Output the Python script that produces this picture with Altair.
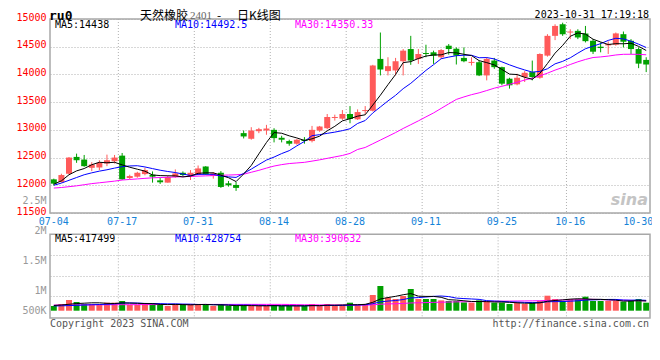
import altair as alt
import pandas as pd

# ---------------- data ----------------
dates = ["07-04", "07-05", "07-06", "07-07", "07-10", "07-11", "07-12", "07-13", "07-14",
         "07-17", "07-18", "07-19", "07-20", "07-21", "07-24", "07-25", "07-26", "07-27", "07-28",
         "07-31", "08-01", "08-02", "08-03", "08-04", "08-07", "08-08", "08-09", "08-10", "08-11",
         "08-14", "08-15", "08-16", "08-17", "08-18", "08-21", "08-22", "08-23", "08-24", "08-25",
         "08-28", "08-29", "08-30", "08-31", "09-01", "09-04", "09-05", "09-06", "09-07", "09-08",
         "09-11", "09-12", "09-13", "09-14", "09-15", "09-18", "09-19", "09-20", "09-21", "09-22",
         "09-25", "09-26", "09-27", "09-28", "10-09", "10-10", "10-11", "10-12", "10-13",
         "10-16", "10-17", "10-18", "10-19", "10-20", "10-23", "10-24", "10-25", "10-26", "10-27",
         "10-30"]
tick_dates = ["07-04", "07-17", "07-31", "08-14", "08-28", "09-11", "09-25", "10-16", "10-30"]
grid_dates = ["07-17", "07-31", "08-14", "08-28", "09-11", "09-25", "10-16"]

opens = [12107, 12060, 12208, 12512, 12464, 12315, 12321, 12393, 12434, 12535,
         12131, 12155, 12202, 12190, 12089, 12048, 12155, 12226, 12155, 12197,
         12339, 12167, 12226, 12036, 12006, 12941, 12839, 12976, 12988, 13000,
         12857, 12798, 12750, 12822, 12798, 12988, 13030, 13214, 13202, 13286,
         13190, 13339, 13345, 14280, 14060, 14071, 14238, 14458, 14280,
         14387, 14399, 14310, 14518, 14464, 14298, 14208, 14220, 13982, 14250,
         14131, 13923, 13821, 13952, 14042, 13940, 14339, 14696, 14905, 14756,
         14786, 14738, 14607, 14500, 14524, 14536, 14726, 14607, 14458, 14262]
highs = [12120, 12208, 12510, 12571, 12547, 12417, 12452, 12553, 12547, 12583,
         12190, 12244, 12315, 12250, 12131, 12179, 12286, 12250, 12274, 12357,
         12345, 12238, 12256, 12078, 12060, 12988, 13048, 13036, 13090, 13030,
         12893, 12822, 12833, 12869, 13071, 13071, 13286, 13274, 13357, 13429,
         13369, 13429, 14173, 14756, 14310, 14298, 14458, 14696, 14458,
         14536, 14429, 14458, 14548, 14488, 14488, 14310, 14250, 14310, 14298,
         14140, 13940, 14012, 14060, 14250, 14381, 14726, 14905, 14934, 14815,
         14815, 14875, 14637, 14577, 14595, 14756, 14774, 14637, 14488, 14310]
lows = [12000, 12048, 12200, 12405, 12333, 12256, 12274, 12345, 12393, 12100,
        12113, 12137, 12180, 12048, 12024, 12048, 12137, 12155, 12095, 12180,
        12190, 12120, 11953, 11976, 11899, 12845, 12822, 12940, 12911, 12774,
        12774, 12714, 12732, 12750, 12774, 12964, 13012, 13167, 13179, 13119,
        13179, 13286, 13333, 13982, 13982, 13982, 13982, 14173, 14190,
        14310, 14190, 14280, 14357, 14179, 14220, 14161, 13970, 13893, 14101,
        13804, 13744, 13804, 13863, 13893, 13923, 14321, 14619, 14696, 14637,
        14637, 14577, 14369, 14399, 14369, 14518, 14488, 14369, 14113, 14042]
closes = [12030, 12185, 12500, 12452, 12345, 12375, 12405, 12452, 12500, 12107,
          12167, 12226, 12274, 12155, 12054, 12149, 12214, 12185, 12226, 12304,
          12197, 12215, 11970, 12000, 11953, 12881, 12988, 13012, 13024, 12851,
          12822, 12750, 12822, 12798, 13000, 13060, 13232, 13232, 13286, 13197,
          13321, 13357, 14161, 14089, 14149, 14238, 14429, 14250, 14369,
          14369, 14339, 14440, 14458, 14339, 14238, 14226, 13982, 14280, 14131,
          13833, 13804, 13940, 14030, 13952, 14369, 14696, 14875, 14726, 14774,
          14667, 14600, 14410, 14476, 14548, 14740, 14590, 14458, 14195, 14179]
ma5 = [12020, 12080, 12190, 12260, 12302, 12371, 12415, 12406, 12415, 12368,
       12326, 12290, 12255, 12186, 12175, 12172, 12169, 12151, 12166, 12216,
       12225, 12225, 12182, 12137, 12067, 12204, 12358, 12567, 12772, 12951,
       12939, 12892, 12854, 12809, 12838, 12886, 12982, 13064, 13162, 13201,
       13247, 13272, 13447, 13625, 13815, 13999, 14213, 14231, 14287,
       14331, 14351, 14353, 14395, 14389, 14363, 14340, 14249, 14213, 14171,
       14090, 14006, 13998, 13948, 13912, 14019, 14197, 14384, 14524, 14688,
       14748, 14728, 14635, 14585, 14540, 14555, 14553, 14562, 14506, 14432]
ma10 = [12000, 12040, 12090, 12140, 12190, 12225, 12255, 12280, 12310, 12335,
        12349, 12353, 12331, 12301, 12272, 12249, 12230, 12203, 12176, 12196,
        12199, 12197, 12167, 12152, 12142, 12215, 12292, 12375, 12455, 12509,
        12572, 12625, 12711, 12791, 12895, 12913, 12937, 12959, 12986, 13020,
        13115, 13168, 13305, 13413, 13522, 13623, 13743, 13839, 13956,
        14073, 14175, 14283, 14313, 14338, 14347, 14346, 14301, 14304, 14280,
        14227, 14173, 14124, 14081, 14042, 14055, 14102, 14191, 14236, 14300,
        14384, 14463, 14510, 14555, 14614, 14652, 14641, 14599, 14546, 14486]
ma30 = [11950, 11960, 11975, 11990, 12010, 12030, 12045, 12060, 12075, 12095,
        12105, 12115, 12125, 12135, 12140, 12145, 12150, 12155, 12160, 12165,
        12170, 12175, 12180, 12185, 12190, 12200, 12235, 12270, 12310, 12347,
        12373, 12392, 12403, 12414, 12436, 12459, 12486, 12512, 12538, 12575,
        12646, 12682, 12749, 12816, 12883, 12951, 13025, 13093, 13162,
        13234, 13305, 13387, 13469, 13549, 13594, 13635, 13668, 13709, 13752,
        13786, 13821, 13858, 13899, 13931, 13975, 14023, 14078, 14126, 14179,
        14228, 14270, 14305, 14316, 14331, 14351, 14363, 14364, 14362, 14355]

# volumes in thousands of lots
vol_k = [197, 281, 449, 365, 281, 281, 281, 336, 336, 407,
         239, 239, 281, 323, 239, 197, 281, 239, 281, 281,
         239, 197, 239, 197, 197, 239, 197, 197, 197, 239,
         197, 197, 197, 197, 281, 197, 281, 197, 239, 336,
         239, 281, 659, 1037, 546, 491, 617, 911, 491,
         491, 491, 433, 407, 407, 349, 336, 433, 378, 336,
         336, 281, 336, 281, 336, 407, 630, 491, 407, 491,
         491, 588, 407, 407, 407, 407, 378, 433, 491, 336]
vma5_k = [220, 240, 270, 300, 315, 331, 331, 309, 303, 328,
          320, 311, 300, 298, 264, 256, 264, 256, 247, 256,
          264, 247, 247, 231, 214, 214, 214, 205, 205, 214,
          205, 205, 205, 205, 214, 214, 231, 231, 239, 250,
          250, 267, 351, 491, 552, 603, 670, 720, 611,
          600, 600, 563, 463, 446, 417, 386, 386, 381, 366,
          364, 353, 333, 314, 314, 328, 398, 429, 454, 485,
          502, 494, 477, 477, 460, 443, 401, 406, 423, 409]
vma10_k = [200, 205, 215, 225, 240, 250, 260, 270, 285, 322,
           326, 321, 305, 301, 296, 288, 288, 278, 273, 260,
           260, 256, 252, 239, 235, 239, 231, 226, 218, 214,
           210, 210, 205, 205, 214, 210, 218, 218, 222, 232,
           241, 249, 295, 371, 405, 427, 469, 536, 551,
           576, 602, 617, 592, 529, 509, 493, 475, 422, 406,
           391, 370, 360, 348, 340, 346, 376, 381, 384, 400,
           415, 446, 453, 466, 473, 473, 448, 442, 450, 435]
vma30_k = [238, 240, 241, 243, 244, 246, 247, 249, 250, 252,
           253, 254, 256, 257, 258, 259, 260, 261, 262, 262,
           263, 263, 264, 264, 265, 265, 265, 265, 265, 265,
           265, 262, 254, 248, 248, 245, 245, 241, 238, 235,
           235, 235, 246, 273, 285, 292, 304, 325, 332,
           341, 350, 357, 364, 371, 375, 379, 387, 393, 396,
           401, 404, 408, 411, 413, 420, 432, 442, 447, 452,
           461, 472, 477, 468, 447, 442, 439, 433, 419, 413]

price_ticks = [11500, 12000, 12500, 13000, 13500, 14000, 14500, 15000]
vol_label_text = ["500K", "1M", "1.5M", "2M", "2.5M"]
legend_price = ["MA5:14438", "MA10:14492.5", "MA30:14350.33"]
legend_vol = ["MA5:417499", "MA10:428754", "MA30:390632"]

for arr in (opens, highs, lows, closes, ma5, ma10, ma30, vol_k, vma5_k, vma10_k, vma30_k):
    assert len(arr) == len(dates), len(arr)

# ---------------- layout / style ----------------
W, H = 600, 299
PRICE_DOMAIN = [9605.7, 15000]            # price panel occupies top 194 px
VOL_DOMAIN = [-306600, 12251400]          # volume baseline ~7px above bottom
VOL_TOP = 3208800                         # top edge of the volume panel
vol_grid = [617400, 1470000, 2326800]
vol_label_pos = [0, 869400, 2100000, 3389400, 4649400]

RED, GREEN = "#FF5A5A", "#00A000"
BLACK, BLUE, MAG = "#000000", "#0000FF", "#FF00FF"
GRID, BORDER = "#B0B0B0", "#A8A8A8"
MONO = "DejaVu Sans Mono"
CJK = "Noto Sans CJK SC"

df = pd.DataFrame(dict(
    d=dates, o=opens, h=highs, l=lows, c=closes,
    ma5=ma5, ma10=ma10, ma30=ma30,
    v=[x * 1000 for x in vol_k], vma5=[x * 1000 for x in vma5_k],
    vma10=[x * 1000 for x in vma10_k], vma30=[x * 1000 for x in vma30_k],
))
one = pd.DataFrame({"k": [0]})
gdf = pd.DataFrame({"d": grid_dates})
tdf = pd.DataFrame({"d": tick_dates})

xs = alt.Scale(type="band", domain=dates, paddingInner=0, paddingOuter=0)


def ps():
    return alt.Scale(domain=PRICE_DOMAIN, nice=False, zero=False)


def vs():
    return alt.Scale(domain=VOL_DOMAIN, nice=False, zero=False)


col = alt.when(alt.datum.c >= alt.datum.o).then(alt.value(RED)).otherwise(alt.value(GREEN))


def xc(bp=0.5):
    # no axis here: the shared date axis is defined once, on its own layer
    return alt.X("d:O", scale=xs, bandPosition=bp)


base = alt.Chart(df)

# ---------------- axes (each on its own invisible layer) ----------------
price_axis = alt.Axis(orient="left", values=price_ticks, format="d", title=None, grid=True,
                      gridColor=GRID, gridDash=[1, 2], ticks=False, domain=False,
                      labelColor="#FF0000", labelFont=MONO, labelFontSize=10,
                      labelPadding=4, labelOffset=-2, labelOverlap=False)
date_axis = alt.Axis(orient="bottom", values=tick_dates, offset=-105, bandPosition=0,
                     title=None, grid=False, ticks=False, domain=False, labelAngle=0,
                     labelOffset={"condition": {"test": f"datum.value == '{tick_dates[-1]}'",
                                                "value": -8}, "value": 0},
                     labelColor="#1483D8", labelFont=MONO, labelFontSize=10,
                     labelPadding=3, labelOverlap=False)
vol_axis = alt.Axis(orient="left", values=vol_grid, title=None, grid=True,
                    gridColor=GRID, gridDash=[1, 2], ticks=False, domain=False, labels=False)
expr = "''"
for pos, lab in zip(vol_label_pos, vol_label_text):
    expr = f"abs(datum.value - {pos}) < 1000 ? '{lab}' : ({expr})"
vlab_axis = alt.Axis(orient="left", values=vol_label_pos, labelExpr=expr, title=None,
                     grid=False, ticks=False, domain=False, labelColor="#999999",
                     labelFont=MONO, labelFontSize=10, labelPadding=4, labelOverlap=False)

daxis = alt.Chart(tdf).mark_rule(opacity=0).encode(x=alt.X("d:O", scale=xs, axis=date_axis))
paxis = base.mark_rule(opacity=0).encode(y=alt.Y("c:Q", scale=ps(), axis=price_axis))
vgaxis = base.mark_rule(opacity=0).encode(y=alt.Y("v:Q", scale=vs(), axis=vol_axis))
vlaxis = base.mark_rule(opacity=0).encode(y=alt.Y("v:Q", scale=vs(), axis=vlab_axis))

# ---------------- price panel ----------------
xgrid_p = alt.Chart(gdf).mark_rule(color=GRID, strokeDash=[1, 2]).encode(
    x=xc(0), y=alt.YDatum(15000, scale=ps(), axis=None), y2=alt.Y2Datum(11500))
wicks = base.mark_rule(strokeWidth=1).encode(
    x=xc(), y=alt.Y("l:Q", scale=ps(), axis=None), y2="h:Q", color=col)
bodies = base.mark_bar(size=6).encode(
    x=alt.X("d:O", scale=xs),
    y=alt.Y("o:Q", scale=ps(), axis=None), y2="c:Q", color=col)
ma_lines = [base.mark_line(color=c, strokeWidth=1).encode(
    x=xc(), y=alt.Y(f + ":Q", scale=ps(), axis=None))
    for f, c in [("ma30", MAG), ("ma10", BLUE), ("ma5", BLACK)]]
border_p = alt.Chart(one).mark_rect(fillOpacity=0, stroke=BORDER, strokeWidth=1.5).encode(
    x=alt.value(0), x2=alt.value(W),
    y=alt.YDatum(15000, scale=ps(), axis=None), y2=alt.Y2Datum(11500))
price = alt.layer(xgrid_p, wicks, bodies, *ma_lines, border_p)

# ---------------- volume panel ----------------
xgrid_v = alt.Chart(gdf).mark_rule(color=GRID, strokeDash=[1, 2]).encode(
    x=xc(0), y=alt.YDatum(VOL_TOP, scale=vs(), axis=None), y2=alt.Y2Datum(VOL_DOMAIN[0]))
vbars = base.mark_bar(size=6).encode(
    x=alt.X("d:O", scale=xs),
    y=alt.Y("v:Q", scale=vs(), axis=None), y2=alt.Y2Datum(0), color=col)
vlines = [base.mark_line(color=c, strokeWidth=1).encode(
    x=xc(), y=alt.Y(f + ":Q", scale=vs(), axis=None))
    for f, c in [("vma30", MAG), ("vma10", BLUE), ("vma5", BLACK)]]
border_v = alt.Chart(one).mark_rect(fillOpacity=0, stroke=BORDER, strokeWidth=1.5).encode(
    x=alt.value(0), x2=alt.value(W),
    y=alt.YDatum(VOL_TOP, scale=vs(), axis=None), y2=alt.Y2Datum(VOL_DOMAIN[0]))
vol = alt.layer(xgrid_v, vbars, *vlines, border_v)


# ---------------- texts ----------------
def txt(s, x, y, color="#000000", size=10, font=MONO, align="left", weight="normal",
        style="normal"):
    return alt.Chart(one).mark_text(
        text=s, color=color, fontSize=size, font=font, align=align, baseline="middle",
        fontWeight=weight, fontStyle=style).encode(x=alt.value(x), y=alt.value(y))


texts = [
    txt("ru0", -1, -3.5, size=13, weight="bold"),
    txt("天然橡胶", 90, -3, size=12, font=CJK),
    txt("2401", 140, -3.5, color="#666666", size=11, font="Liberation Serif"),
    txt("-", 167, -3, size=12, font=CJK),
    txt("日K线图", 187, -3, size=12, font=CJK),
    txt("2023-10-31 17:19:18", W - 1, -4.5, align="right"),
    txt(legend_price[0], 5, 5.5, color=BLACK),
    txt(legend_price[1], 125, 5.5, color=BLUE),
    txt(legend_price[2], 245, 5.5, color=MAG),
    txt(legend_vol[0], 5, 219.5, color=BLACK),
    txt(legend_vol[1], 125, 219.5, color=BLUE),
    txt(legend_vol[2], 245, 219.5, color=MAG),
    txt("sina", W - 2, 181, color="#C4C4C4", size=16, font="DejaVu Sans", align="right",
        weight="bold", style="italic"),
    txt("Copyright 2023 SINA.COM", 0, 305, color="#555555"),
    txt("http://finance.sina.com.cn", W - 1, 305, color="#555555", align="right"),
]

chart = alt.layer(daxis, paxis, vgaxis, vlaxis, price, vol, *texts).resolve_scale(
    y="independent").properties(
    width=W, height=H,
    padding={"left": 42, "top": 11, "right": 2, "bottom": 33},
    autosize=alt.AutoSizeParams(type="none"),
    background="white",
).configure_view(stroke=None)

chart.save("out.html", embed_options={"renderer": "svg", "actions": False})
